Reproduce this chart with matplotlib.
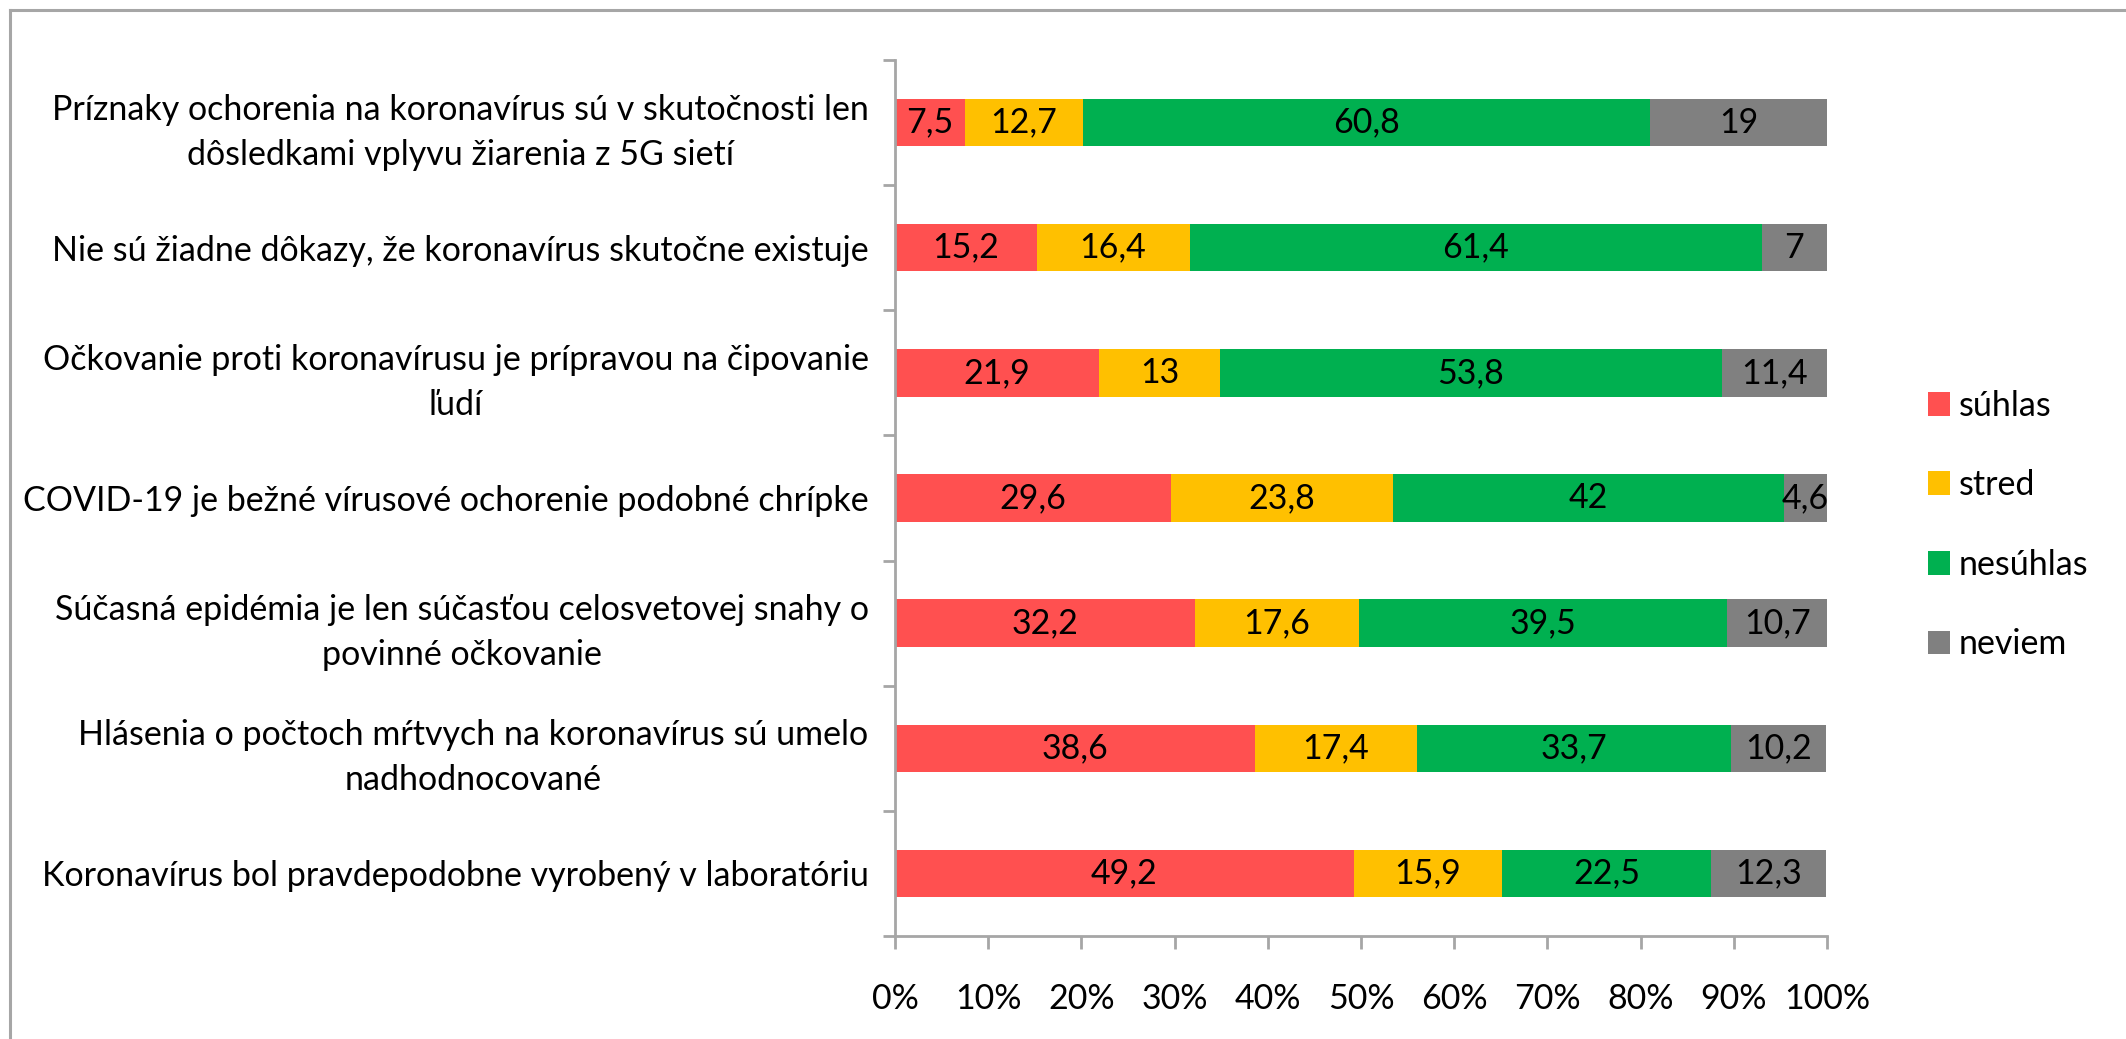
import matplotlib
matplotlib.use("Agg")
import matplotlib.pyplot as plt
from matplotlib.patches import Patch
from matplotlib.ticker import FixedLocator, PercentFormatter
import numpy as np

#data
statements = [
    "Príznaky ochorenia na koronavírus sú v skutočnosti len\ndôsledkami vplyvu žiarenia z 5G sietí",
    "Nie sú žiadne dôkazy, že koronavírus skutočne existuje",
    "Očkovanie proti koronavírusu je prípravou na čipovanie\nľudí",
    "COVID-19 je bežné vírusové ochorenie podobné chrípke",
    "Súčasná epidémia je len súčasťou celosvetovej snahy o\npovinné očkovanie",
    "Hlásenia o počtoch mŕtvych na koronavírus sú umelo\nnadhodnocované",
    "Koronavírus bol pravdepodobne vyrobený v laboratóriu",
]
suhlas = [7.5, 15.2, 21.9, 29.6, 32.2, 38.6, 49.2]
stred = [12.7, 16.4, 13, 23.8, 17.6, 17.4, 15.9]
nesuhlas = [60.8, 61.4, 53.8, 42, 39.5, 33.7, 22.5]
neviem = [19, 7, 11.4, 4.6, 10.7, 10.2, 12.3]

series_names = ["súhlas", "stred", "nesúhlas", "neviem"]
colors = ["#FF5050", "#FFC000", "#00B050", "#808080"]

plt.rcParams['font.family'] = ['Lato', 'DejaVu Sans']
FS = 24.5

fig = plt.figure(figsize=(21.26, 10.39), dpi=100)
ax = fig.add_axes([895/2126, 1 - 936/1039, 932/2126, 876/1039])

#outer frame (only top and left visible)
fig.add_artist(plt.Line2D([10/2126, 10/2126], [0, 1 - 10/1039], transform=fig.transFigure,
                          color="#A6A6A6", lw=2.2))
fig.add_artist(plt.Line2D([10/2126, 1], [1 - 10/1039, 1 - 10/1039], transform=fig.transFigure,
                          color="#A6A6A6", lw=2.2))

y = np.arange(len(statements))
left = np.zeros(len(statements))
for vals, name, col in zip([suhlas, stred, nesuhlas, neviem], series_names, colors):
    vals = np.array(vals)
    ax.barh(y, vals, left=left, height=0.38, color=col, label=name)
    for yi, l, v in zip(y, left, vals):
        ax.text(l + v / 2, yi, f"{v:g}".replace(".", ","), ha="center", va="center",
                fontsize=FS, color="black")
    left = left + vals

ax.set_xlim(0, 100)
ax.set_ylim(len(statements) - 0.5, -0.5)
ax.xaxis.set_major_locator(FixedLocator(np.arange(0, 101, 10)))
ax.xaxis.set_major_formatter(PercentFormatter(decimals=0))
ax.set_yticks(y)
ax.set_yticklabels(statements)
for lbl in ax.get_yticklabels():
    lbl.set_multialignment("center")
    lbl.set_linespacing(1.5)
ax.yaxis.set_minor_locator(FixedLocator(np.arange(-0.5, len(statements), 1)))

for s in ["top", "right"]:
    ax.spines[s].set_visible(False)
for s in ["left", "bottom"]:
    ax.spines[s].set_color("#A6A6A6")
    ax.spines[s].set_linewidth(2)

ax.tick_params(axis="y", which="major", length=0, pad=19, labelsize=FS)
ax.tick_params(axis="y", which="minor", length=9, width=2, color="#A6A6A6")
ax.tick_params(axis="x", which="major", length=9, width=2, color="#A6A6A6", pad=25, labelsize=FS)

handles = [Patch(facecolor=c, label=n) for c, n in zip(colors, series_names)]
fig.legend(handles=handles, loc="center left", bbox_to_anchor=(1928/2126, 1 - 525/1039),
           frameon=False, fontsize=FS, handlelength=0.66, handleheight=0.7,
           handletextpad=0.25, labelspacing=1.4, borderpad=0, borderaxespad=0)

fig.savefig("out.png", dpi=100, facecolor="white")
